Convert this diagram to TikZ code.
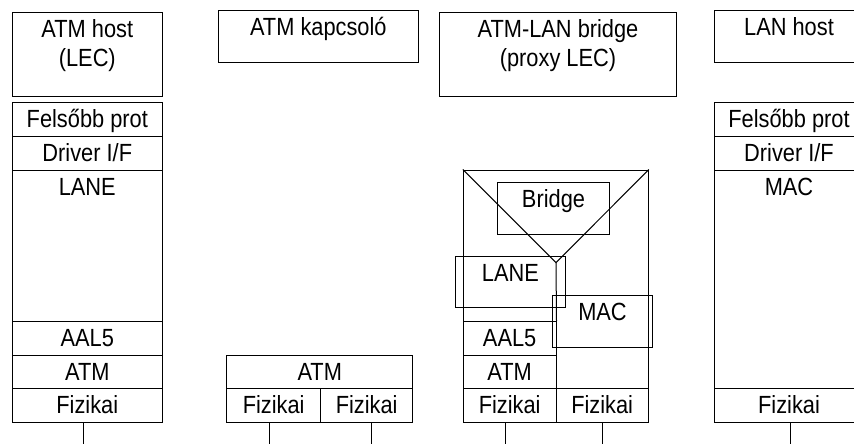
\documentclass[tikz,border=0pt]{standalone}
\usepackage{fontspec}
\setmainfont{Liberation Sans}
\usetikzlibrary{fit}
\newcommand\mkbox[5]{\node[box, fit={(#2,#3) (#4,#5)}] (#1) {};}
\newcommand\mkcell[6]{\mkbox{#1}{#2}{#3}{#4}{#5}\node[lbl] (#1-t) at ([yshift=-25.5pt]#1.north) {\scalebox{1}[1.14]{\begin{tabular}[t]{@{}c@{}}#6\end{tabular}}};}
\begin{document}
\begin{tikzpicture}[x=1pt,y=-1pt,line width=1pt,
  box/.style={draw, inner sep=0pt, line width=1pt},
  lbl/.style={font=\fontsize{21.8}{25.6}\selectfont, inner sep=0pt, anchor=base},
  wire/.style={draw, line width=1pt}]
\clip (0,0) rectangle (854,444);
% ATM host
\mkcell{hostbox}{12.3}{12.3}{162.3}{96}{ATM host\\(LEC)}
\mkcell{hfel}{12.3}{102.3}{162.3}{136}{Felsőbb prot}
\mkcell{hdrv}{12.3}{136}{162.3}{170}{Driver I/F}
\mkcell{hlane}{12.3}{170}{162.3}{321.3}{LANE}
\mkcell{haal}{12.3}{321.3}{162.3}{355}{AAL5}
\mkcell{hatm}{12.3}{355}{162.3}{388.7}{ATM}
\mkcell{hfiz}{12.3}{388.7}{162.3}{422.3}{Fizikai}
% ATM switch
\mkcell{swbox}{218.3}{11}{418.3}{62.3}{ATM kapcsoló}
\mkcell{swatm}{226.7}{355}{412.7}{388.7}{ATM}
\mkcell{swfa}{226.7}{388.7}{320.7}{422.3}{Fizikai}
\mkcell{swfb}{320.7}{388.7}{412.7}{422.3}{Fizikai}
% ATM-LAN bridge
\mkcell{brbox}{439.3}{12.3}{676.7}{96}{ATM-LAN bridge\\(proxy LEC)}
\mkbox{brout}{463.3}{170}{648.3}{422.3}
\mkcell{brbr}{497.7}{182.3}{609.3}{234.3}{Bridge}
\mkcell{brlane}{455}{256}{565.7}{307.7}{LANE}
\mkcell{brmac}{552.7}{295.7}{652.3}{347.3}{MAC}
\mkcell{braal}{463.3}{321.3}{556}{355}{AAL5}
\mkcell{bratm}{463.3}{355}{556}{388.7}{ATM}
\mkcell{brfa}{463.3}{388.7}{556}{422.3}{Fizikai}
\mkcell{brfb}{556}{388.7}{648.3}{422.3}{Fizikai}
\coordinate (apex) at (556,262.7);
\draw (brout.north west) -- (apex) -- (brout.north east);
\draw (apex) -- (braal.north east);
% LAN host
\mkcell{lanbox}{714}{11}{864}{62.3}{LAN host}
\mkcell{lfel}{714}{102.7}{864}{136}{Felsőbb prot}
\mkcell{ldrv}{714}{136}{864}{170}{Driver I/F}
\mkcell{lmac}{714}{170}{864}{388.7}{MAC}
\mkcell{lfiz}{714}{388.7}{864}{422.3}{Fizikai}
% wires
\coordinate (e1) at (83.3,444);
\coordinate (e2) at (269.3,444);
\coordinate (e3) at (371,444);
\coordinate (e4) at (505.3,444);
\coordinate (e5) at (602,444);
\coordinate (e6) at (790,444);
\draw[wire] (hfiz.south -| e1) -- (e1);
\draw[wire] (swfa.south -| e2) -- (e2);
\draw[wire] (swfb.south -| e3) -- (e3);
\draw[wire] (brfa.south -| e4) -- (e4);
\draw[wire] (brfb.south -| e5) -- (e5);
\draw[wire] (lfiz.south -| e6) -- (e6);
\end{tikzpicture}
\end{document}
